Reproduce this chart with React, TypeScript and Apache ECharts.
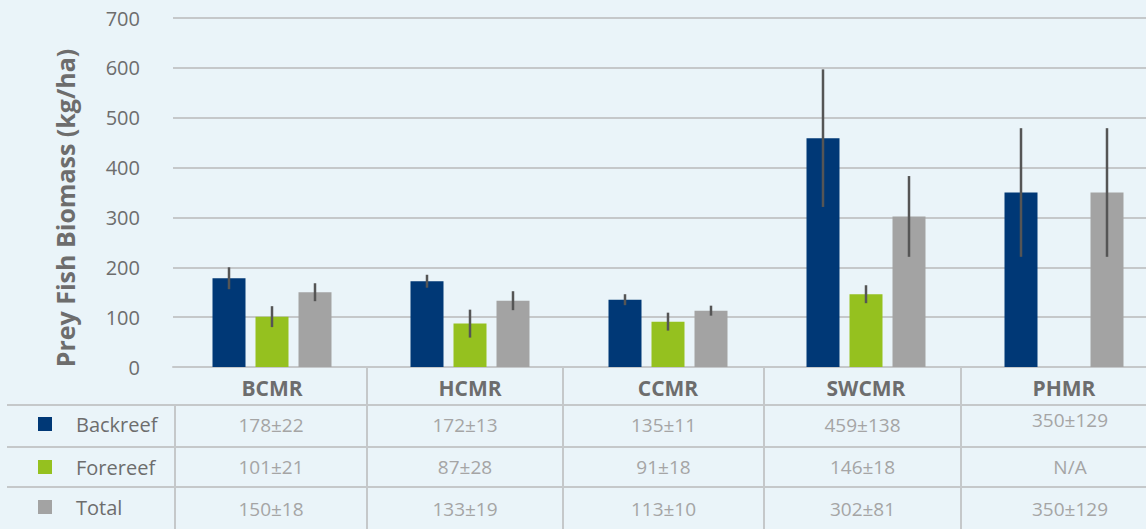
import React, { useEffect, useRef } from "react";
import * as echarts from "echarts";

const categories = ["BCMR", "HCMR", "CCMR", "SWCMR", "PHMR"];
const seriesNames = ["Backreef", "Forereef", "Total"];
const backreef = [178, 172, 135, 459, 350];
const backreefErr = [22, 13, 11, 138, 129];
const forereef: (number | null)[] = [101, 87, 91, 146, null];
const forereefErr: (number | null)[] = [21, 28, 18, 18, null];
const total = [150, 133, 113, 302, 350];
const totalErr = [18, 19, 10, 81, 129];
const yTicks = [0, 100, 200, 300, 400, 500, 600, 700];

const colors = ["#003876", "#95c11f", "#a3a3a3"];
const BG = "#eaf4f9";
const GRID = "#c5c8ca";
const TEXT = "#6d6d6d";
const VALTEXT = "#a5a5a5";
const FONT = "'Open Sans', 'Noto Sans', sans-serif";

// layout
const W = 1190; // chart is wider than the window; the right part is cut off as in the reference
const H = 529;
const gridLeft = 173;
const gridTop = 18;
const gridBottomY = 367;
const gridWidth = 990;
const barW = 33;
const barGap = 10;
const dividerX = [175, 367, 563, 764, 961, 1179];
const rowLines = [405, 447, 487];
const rowCenters = [425, 467, 509];
const legendSquareY = [417, 460, 500];

export default function App() {
  const ref = useRef<HTMLDivElement>(null);
  useEffect(() => {
    document.body.style.margin = "0";
    document.body.style.overflow = "hidden";
    document.documentElement.style.overflow = "hidden";
    const chart = echarts.init(ref.current!, undefined, { renderer: "svg" });
    const vals = [backreef, forereef, total];
    const errs = [backreefErr, forereefErr, totalErr];

    const barSeries = vals.map((v, k) => ({
      name: seriesNames[k],
      type: "bar",
      data: v,
      barWidth: barW,
      barGap: `${(barGap / barW) * 100}%`,
      itemStyle: { color: colors[k] },
      z: 2,
    }));

    const errSeries = vals.map((v, k) => ({
      name: seriesNames[k] + " error",
      type: "custom",
      z: 5,
      data: v
        .map((val, i) =>
          val == null || errs[k][i] == null
            ? null
            : [i, (val as number) - (errs[k][i] as number), (val as number) + (errs[k][i] as number)]
        )
        .filter((d) => d !== null),
      renderItem: (params: any, api: any) => {
        const i = api.value(0);
        const lo = api.coord([i, api.value(1)]);
        const hi = api.coord([i, api.value(2)]);
        const x = lo[0] + (k - 1) * (barW + barGap);
        return {
          type: "line",
          shape: { x1: x, y1: lo[1], x2: x, y2: hi[1] },
          style: { stroke: "#555555", lineWidth: 2.5 },
        };
      },
    }));

    const graphics: any[] = [];
    // y axis title
    graphics.push({
      type: "text",
      x: 65,
      y: 208,
      rotation: Math.PI / 2,
      style: {
        text: "Prey Fish Biomass (kg/ha)",
        font: `bold 25px ${FONT}`,
        fill: TEXT,
        align: "center",
        verticalAlign: "middle",
      },
    });
    // table horizontal lines
    rowLines.forEach((y) => {
      graphics.push({
        type: "line",
        shape: { x1: 7, y1: y, x2: W, y2: y },
        style: { stroke: GRID, lineWidth: 2 },
      });
    });
    // table vertical lines
    dividerX.slice(0, 5).forEach((x, i) => {
      graphics.push({
        type: "line",
        shape: { x1: x, y1: i === 0 ? rowLines[0] : gridBottomY, x2: x, y2: H },
        style: { stroke: GRID, lineWidth: 2 },
      });
    });
    // legend rows
    seriesNames.forEach((name, k) => {
      graphics.push({
        type: "rect",
        shape: { x: 38, y: legendSquareY[k], width: 14, height: 14 },
        style: { fill: colors[k] },
      });
      graphics.push({
        type: "text",
        x: 76,
        y: legendSquareY[k] + 7,
        style: {
          text: name,
          font: `20px ${FONT}`,
          fill: TEXT,
          align: "left",
          verticalAlign: "middle",
        },
      });
    });
    // table values
    categories.forEach((c, i) => {
      const cx = (dividerX[i] + dividerX[i + 1]) / 2;
      vals.forEach((v, k) => {
        const val = v[i];
        const e = errs[k][i];
        graphics.push({
          type: "text",
          x: cx,
          y: rowCenters[k] + (i === 4 && k === 0 ? -5 : 0),
          style: {
            text: val == null ? "N/A" : `${val}±${e}`,
            font: `19px ${FONT}`,
            fill: VALTEXT,
            align: "center",
            verticalAlign: "middle",
          },
        });
      });
    });

    chart.setOption({
      animation: false,
      backgroundColor: BG,
      textStyle: { fontFamily: FONT },
      grid: {
        left: gridLeft,
        top: gridTop,
        width: gridWidth,
        height: gridBottomY - gridTop,
        containLabel: false,
      },
      xAxis: {
        type: "category",
        data: categories,
        axisTick: { show: false },
        axisLine: { show: true, lineStyle: { color: GRID, width: 2 } },
        axisLabel: {
          margin: 10,
          fontSize: 21,
          fontWeight: "bold",
          color: TEXT,
          fontFamily: FONT,
        },
      },
      yAxis: {
        type: "value",
        min: yTicks[0],
        max: yTicks[yTicks.length - 1],
        interval: 100,
        axisLine: { show: false },
        axisTick: { show: false },
        axisLabel: { fontSize: 20, color: TEXT, margin: 33, fontFamily: FONT },
        splitLine: { lineStyle: { color: GRID, width: 2 } },
      },
      series: [...barSeries, ...errSeries],
      graphic: graphics,
    });
    return () => chart.dispose();
  }, []);
  return (
    <div
      ref={ref}
      style={{ position: "absolute", left: 0, top: 0, width: W, height: H }}
    />
  );
}
